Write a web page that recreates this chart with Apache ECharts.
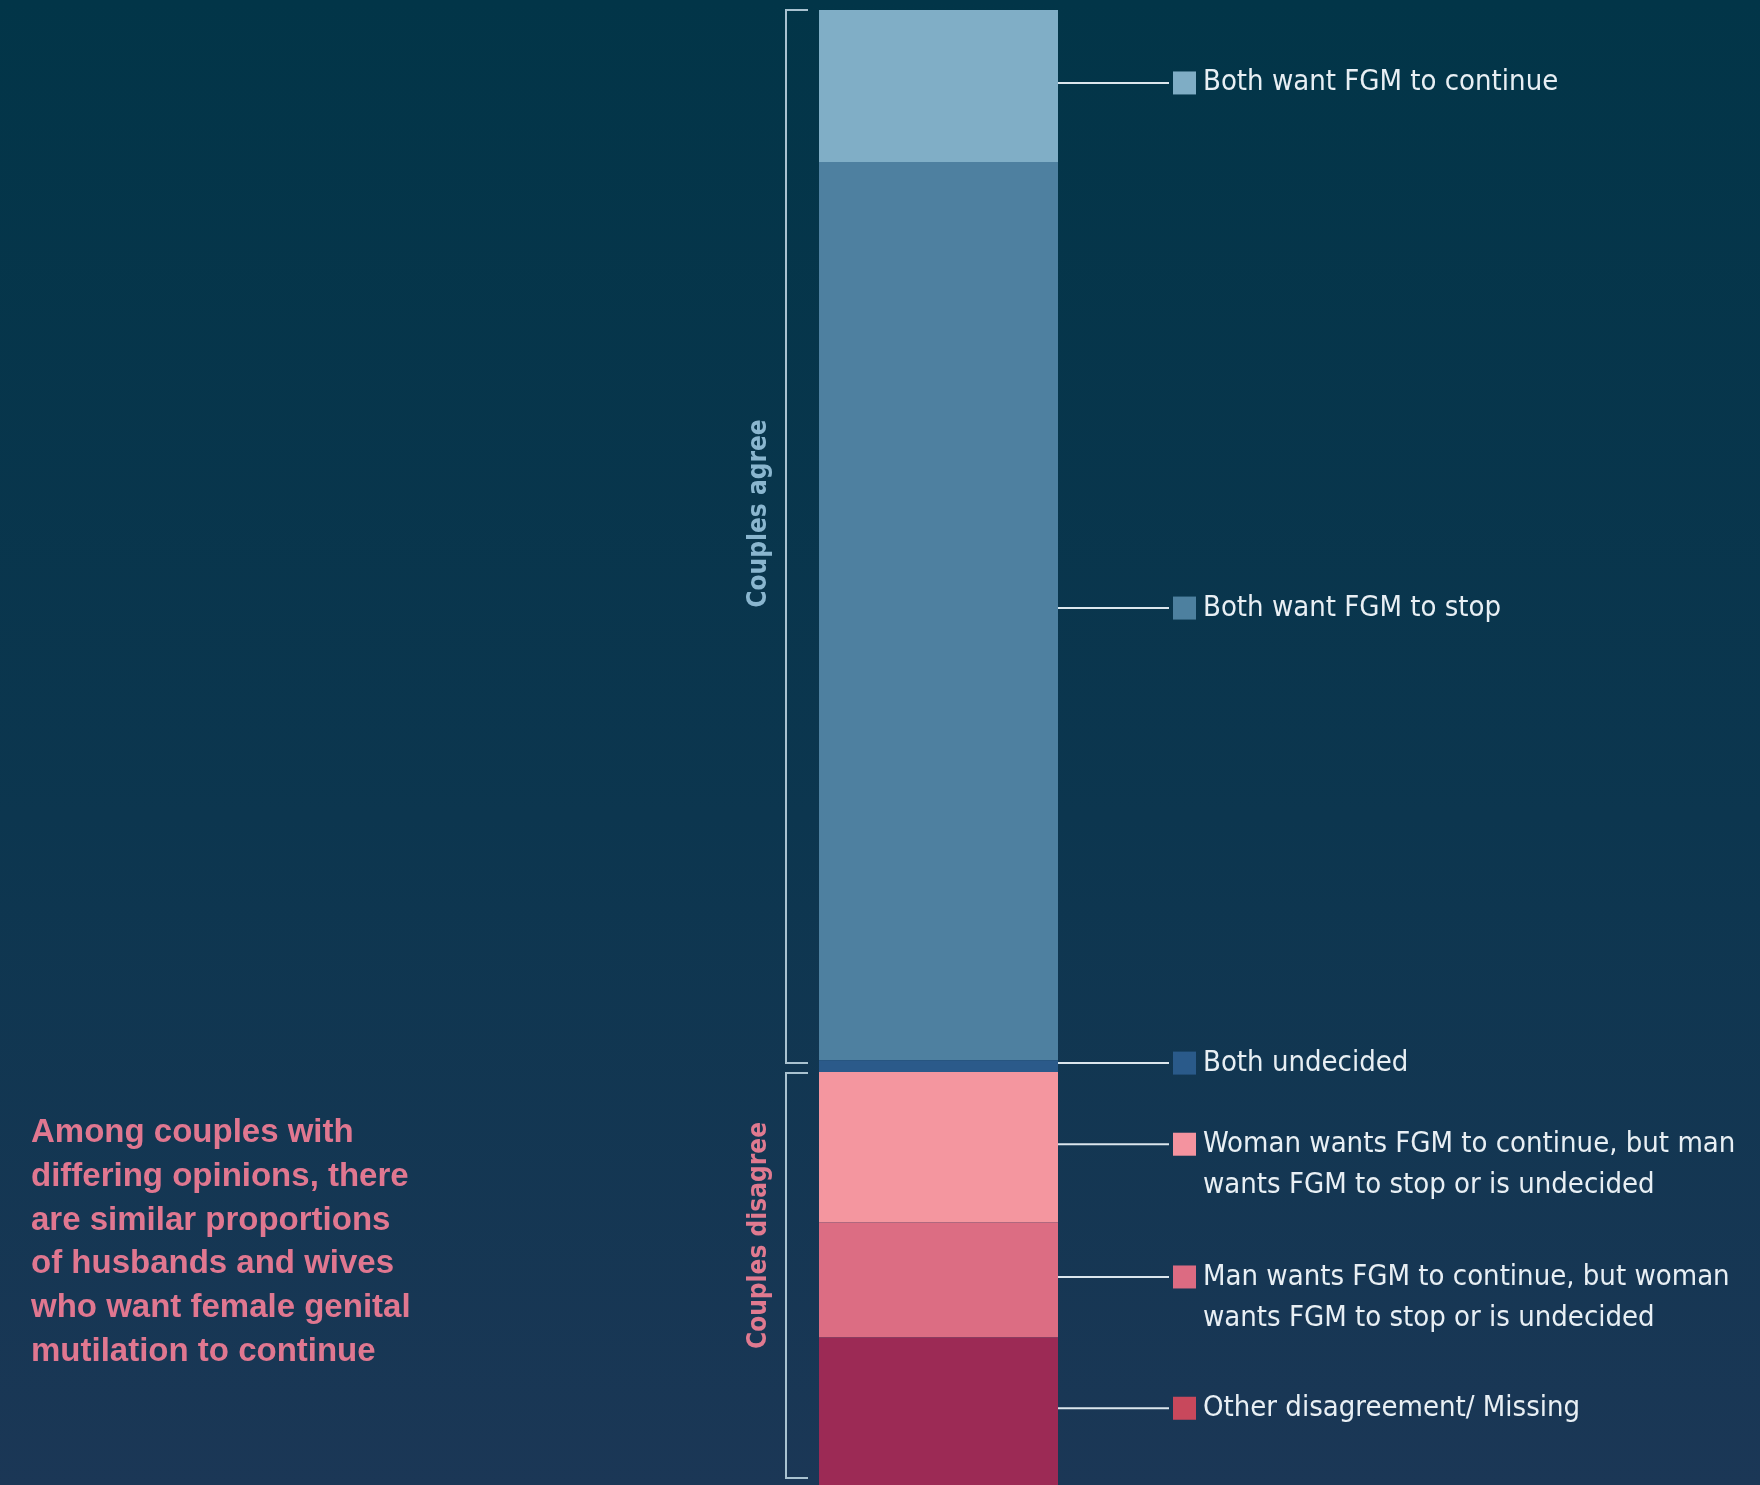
<!DOCTYPE html>
<html>
<head>
<meta charset="utf-8">
<script src="https://cdn.jsdelivr.net/npm/echarts@6/dist/echarts.min.js"></script>
<style>
  html, body { margin: 0; padding: 0; width: 1760px; height: 1485px; overflow: hidden; }
  body { background: linear-gradient(to bottom, #023548 0%, #0c364f 55%, #1b3756 100%); }
  #chart { width: 1760px; height: 1485px; }
</style>
</head>
<body>
<div id="chart"></div>
<script>
// ---- data ----
const categories = ['Couples'];
const segmentNames = [
  'Both want FGM to continue',
  'Both want FGM to stop',
  'Both undecided',
  'Woman wants FGM to continue, but man\nwants FGM to stop or is undecided',
  'Man wants FGM to continue, but woman\nwants FGM to stop or is undecided',
  'Other disagreement/ Missing'
];
const segmentValues = [10.3, 60.9, 0.8, 10.2, 7.8, 10.0];
const groupNames = ['Couples agree', 'Couples disagree'];
const groupRanges = [[0, 3], [3, 6]]; // segment index ranges [start, end)
const annotationLines = [
  'Among couples with',
  'differing opinions, there',
  'are similar proportions',
  'of husbands and wives',
  'who want female genital',
  'mutilation to continue'
];

// ---- styles ----
const barColors = ['#80aec6', '#4e80a0', '#2b5a8a', '#f4969f', '#dc6d83', '#9c2a55'];
const keyColors = ['#7fadc5', '#4d809f', '#2a5a8a', '#f4939f', '#dc6b82', '#c8485c'];
const groupColors = ['#8ab6cf', '#e07a90'];
const textFont = "'Liberation Sans Narrow', 'DejaVu Sans Condensed', 'Roboto', sans-serif";
const lineH = 41;

const chart = echarts.init(document.getElementById('chart'), null, { renderer: 'canvas' });

function buildLabel(i) {
  const lines = segmentNames[i].split('\n');
  let s = '{ln|}{g1|}{sq|}{g2|}{t|' + lines[0] + '}';
  for (let k = 1; k < lines.length; k++) s += '\n{sp|}{t|' + lines[k] + '}';
  return {
    show: true,
    position: 'right',
    distance: 0,
    offset: [0, (lines.length - 1) * lineH / 2 - 3],
    formatter: s,
    rich: {
      ln: { width: 111, height: 2, backgroundColor: '#dbe6ed' },
      g1: { width: 4 },
      sq: { width: 23, height: 23, backgroundColor: keyColors[i] },
      g2: { width: 7 },
      sp: { width: 145 },
      t: { fontSize: 29, color: '#e8eff4', fontFamily: textFont, lineHeight: lineH }
    }
  };
}

const series = segmentNames.map((name, i) => ({
  name: name,
  type: 'bar',
  stack: 'total',
  barWidth: '100%',
  data: [segmentValues[i]],
  itemStyle: { color: barColors[i] },
  label: buildLabel(i),
  emphasis: { disabled: true },
  silent: true
}));

chart.setOption({
  animation: false,
  backgroundColor: 'transparent',
  grid: { left: 819, width: 239, top: 10, bottom: 0 },
  xAxis: { type: 'category', data: categories, show: false },
  yAxis: { type: 'value', min: 0, max: 100, inverse: true, show: false },
  series: series
});

// ---- brackets, group labels and annotation, positioned from the axis ----
const cum = [0];
segmentValues.forEach(v => cum.push(cum[cum.length - 1] + v));
const yPx = v => chart.convertToPixel({ yAxisIndex: 0 }, v);
const barLeft = 819;
const bx = barLeft - 33, tickW = 22;
const bracketStyle = { stroke: '#a9c2d0', lineWidth: 2, fill: null };
const graphics = [];
groupRanges.forEach((r, gi) => {
  const top = yPx(cum[r[0]]) + (gi === 0 ? 0 : 1);
  const bottom = yPx(cum[r[1]]) - (gi === 0 ? 9 : 7);
  graphics.push({
    type: 'polyline', silent: true,
    shape: { points: [[bx + tickW, top], [bx, top], [bx, bottom], [bx + tickW, bottom]] },
    style: bracketStyle
  });
  graphics.push({
    type: 'text', silent: true,
    x: bx - 27, y: (top + bottom) / 2 - (gi === 0 ? 23 : 40),
    rotation: Math.PI / 2,
    style: {
      text: groupNames[gi], fill: groupColors[gi],
      font: "bold 26px 'Liberation Sans Narrow', 'DejaVu Sans Condensed', 'Roboto', sans-serif",
      align: 'center', verticalAlign: 'middle'
    }
  });
});
graphics.push({
  type: 'text', silent: true, left: 31, top: 1111,
  style: {
    text: annotationLines.join('\n'), fill: '#e07790',
    font: "bold 33px 'Liberation Sans', Arial, sans-serif",
    lineHeight: 43.8
  }
});
chart.setOption({ graphic: graphics });
</script>
</body>
</html>
